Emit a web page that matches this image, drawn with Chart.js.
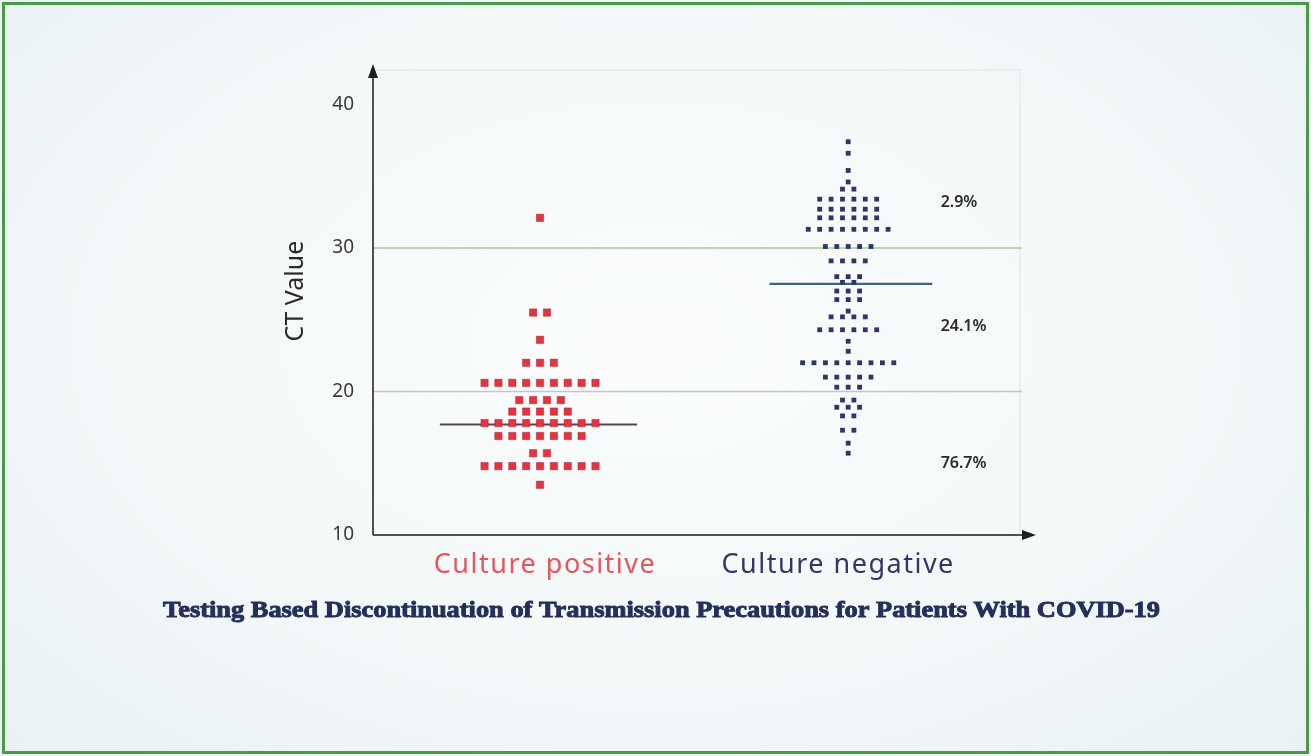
<!DOCTYPE html>
<html>
<head>
<meta charset="utf-8">
<script src="https://cdn.jsdelivr.net/npm/chart.js@4"></script>
<style>
  html, body { margin: 0; padding: 0; }
  body {
    width: 1311px; height: 756px; overflow: hidden;
    background: radial-gradient(ellipse at 50% 45%, #fbfdfd 0%, #f3f8f9 55%, #e9f1f3 100%);
  }
  #frame {
    position: absolute; left: 2px; top: 2px; width: 1301px; height: 746px;
    border: 3px solid #4b9a48;
  }
  #wrap { position: absolute; left: 0; top: 0; width: 1311px; height: 756px; }
</style>
</head>
<body>
<div id="frame"></div>
<div id="wrap"><canvas id="ct-chart" width="1311" height="756"></canvas></div>
<script>
// categories
const groups = ['Culture positive', 'Culture negative'];
const groupColors = ['#e5343f', '#2c3766'];
const labelColors = ['#e2585c', '#2d3a66'];

// CT values (one entry per patient)
const positiveCt = [
  32.1,
  25.5, 25.5,
  23.6,
  22.0, 22.0, 22.0,
  20.6, 20.6, 20.6, 20.6, 20.6, 20.6, 20.6, 20.6, 20.6,
  19.4, 19.4, 19.4, 19.4,
  18.6, 18.6, 18.6, 18.6, 18.6,
  17.8, 17.8, 17.8, 17.8, 17.8, 17.8, 17.8, 17.8, 17.8,
  16.9, 16.9, 16.9, 16.9, 16.9, 16.9, 16.9,
  15.7, 15.7,
  14.8, 14.8, 14.8, 14.8, 14.8, 14.8, 14.8, 14.8, 14.8,
  13.5
];
const negativeCt = [
  37.4, 36.6, 35.4, 34.6,
  34.1, 34.1,
  33.4, 33.4, 33.4, 33.4, 33.4, 33.4,
  32.7, 32.7, 32.7, 32.7, 32.7, 32.7,
  32.1, 32.1, 32.1, 32.1, 32.1, 32.1,
  31.3, 31.3, 31.3, 31.3, 31.3, 31.3, 31.3, 31.3,
  30.1, 30.1, 30.1, 30.1, 30.1,
  29.1, 29.1, 29.1, 29.1,
  28.0, 28.0, 28.0,
  27.6, 27.6,
  27.0, 27.0, 27.0,
  26.4, 26.4, 26.4,
  25.6,
  25.2, 25.2, 25.2, 25.2,
  24.3, 24.3, 24.3, 24.3, 24.3, 24.3,
  23.5,
  22.8,
  22.0, 22.0, 22.0, 22.0, 22.0, 22.0, 22.0, 22.0, 22.0,
  21.0, 21.0, 21.0, 21.0, 21.0,
  20.3, 20.3, 20.3,
  19.4, 19.4,
  18.9, 18.9, 18.9,
  18.3, 18.3,
  17.3, 17.3,
  16.4,
  15.7
];
const medians = [17.7, 27.5];

// reference lines and share of samples in each band
const cutoffs = [20, 30];
const bandLabels = ['2.9%', '24.1%', '76.7%'];
const bandLabelAt = [33.2, 24.5, 15.0];

const yTicks = [10, 20, 30, 40];

// lay out equal values side by side around the group centre (dot plot)
function dotRows(values, center, step) {
  const rows = {};
  values.forEach(v => { (rows[v] = rows[v] || []).push(v); });
  const pts = [];
  Object.keys(rows).forEach(k => {
    const n = rows[k].length;
    rows[k].forEach((v, i) => pts.push({ x: center + (i - (n - 1) / 2) * step, y: v }));
  });
  return pts;
}

const decor = {
  id: 'decor',
  beforeDatasetsDraw(chart) {
    const { ctx, chartArea: a, scales: { x, y } } = chart;
    ctx.save();
    // faint plot box
    ctx.strokeStyle = 'rgba(200,205,210,0.45)';
    ctx.lineWidth = 1;
    ctx.strokeRect(a.left, a.top, a.right - 10 - a.left, a.bottom - a.top);
    // cut-off lines
    const cutColors = ['rgba(205,185,190,0.9)', 'rgba(170,212,160,0.85)'];
    cutoffs.forEach((c, i) => {
      const py = y.getPixelForValue(c);
      ctx.strokeStyle = cutColors[i];
      ctx.lineWidth = i === 1 ? 2 : 1.5;
      ctx.beginPath();
      ctx.moveTo(a.left, py);
      ctx.lineTo(a.right - 8, py);
      ctx.stroke();
    });
    ctx.restore();
  },
  afterDatasetsDraw(chart) {
    const { ctx, chartArea: a, scales: { x, y } } = chart;
    ctx.save();
    // axes with arrows
    ctx.strokeStyle = '#1e1e1e';
    ctx.fillStyle = '#1e1e1e';
    ctx.lineWidth = 1.5;
    ctx.beginPath();
    ctx.moveTo(a.left, a.bottom);
    ctx.lineTo(a.left, a.top);
    ctx.moveTo(a.left, a.bottom);
    ctx.lineTo(a.right, a.bottom);
    ctx.stroke();
    ctx.beginPath();
    ctx.moveTo(a.left, a.top - 6);
    ctx.lineTo(a.left - 5, a.top + 8);
    ctx.lineTo(a.left + 5, a.top + 8);
    ctx.closePath();
    ctx.fill();
    ctx.beginPath();
    ctx.moveTo(a.right + 6, a.bottom);
    ctx.lineTo(a.right - 8, a.bottom - 5);
    ctx.lineTo(a.right - 8, a.bottom + 5);
    ctx.closePath();
    ctx.fill();

    // band percentages
    ctx.fillStyle = '#2a2a2a';
    ctx.font = '600 16px "Noto Sans"';
    ctx.textAlign = 'left';
    ctx.textBaseline = 'middle';
    bandLabels.forEach((t, i) => {
      ctx.fillText(t, x.getPixelForValue(2.3), y.getPixelForValue(bandLabelAt[i]));
    });

    // y title
    ctx.textAlign = 'center';
    ctx.save();
    ctx.translate(296, y.getPixelForValue(27));
    ctx.rotate(-Math.PI / 2);
    ctx.font = '25px "Noto Sans"';
    ctx.fillStyle = '#2a2a2a';
    ctx.fillText('CT Value', 0, 0);
    ctx.restore();

    // group labels under the axis
    ctx.font = '27px "Noto Sans"';
    ctx.letterSpacing = '1.5px';
    groups.forEach((g, i) => {
      ctx.fillStyle = labelColors[i];
      ctx.fillText(g, x.getPixelForValue(i + 1) + (i === 0 ? 5 : -10), a.bottom + 30);
    });
    ctx.letterSpacing = '0px';

    // caption
    const caption = 'Testing Based Discontinuation of Transmission Precautions for Patients With COVID-19';
    ctx.font = 'bold 20px "Liberation Serif"';
    ctx.fillStyle = '#23305a';
    ctx.strokeStyle = '#23305a';
    ctx.lineWidth = 0.8;
    ctx.textAlign = 'left';
    const w = ctx.measureText(caption).width;
    ctx.translate(163, 611);
    ctx.scale(997 / w, 1.2);
    ctx.fillText(caption, 0, 0);
    ctx.strokeText(caption, 0, 0);
    ctx.restore();
  }
};

const ctx = document.getElementById('ct-chart').getContext('2d');

const myChart = new Chart(ctx, {
  data: {
    datasets: [
      {
        type: 'scatter',
        label: groups[0],
        data: dotRows(positiveCt, 1, 0.045),
        pointStyle: 'rect',
        pointRadius: 5.2,
        backgroundColor: groupColors[0],
        borderColor: 'rgba(150,20,40,0.8)',
        borderWidth: 0.5
      },
      {
        type: 'scatter',
        label: groups[1],
        data: dotRows(negativeCt, 2, 0.037),
        pointStyle: 'rect',
        pointRadius: 3.4,
        backgroundColor: groupColors[1],
        borderWidth: 0
      },
      {
        type: 'line',
        label: 'median positive',
        data: [{ x: 1 - 0.325, y: medians[0] }, { x: 1 + 0.315, y: medians[0] }],
        borderColor: '#5b4650',
        borderWidth: 2,
        pointRadius: 0
      },
      {
        type: 'line',
        label: 'median negative',
        data: [{ x: 2 - 0.255, y: medians[1] }, { x: 2 + 0.273, y: medians[1] }],
        borderColor: '#46607a',
        borderWidth: 2.2,
        pointRadius: 0
      }
    ]
  },
  options: {
    responsive: false,
    animation: false,
    layout: { padding: { top: 70, right: 281, bottom: 221, left: 0 } },
    plugins: { legend: { display: false }, tooltip: { enabled: false } },
    scales: {
      x: {
        type: 'linear',
        min: 0.458,
        max: 2.59,
        display: true,
        grid: { display: false },
        border: { display: false },
        ticks: { display: false },
        afterFit(scale) { scale.height = 0; }
      },
      y: {
        min: 10,
        max: 42.4,
        grid: { display: false },
        border: { display: false },
        afterBuildTicks(scale) { scale.ticks = yTicks.map(v => ({ value: v })); },
        afterFit(scale) { scale.width = 373; },
        ticks: {
          padding: 11,
          color: '#3a3a3a',
          font: { family: 'Noto Sans', size: 19 }
        }
      }
    }
  },
  plugins: [decor]
});
</script>
</body>
</html>
